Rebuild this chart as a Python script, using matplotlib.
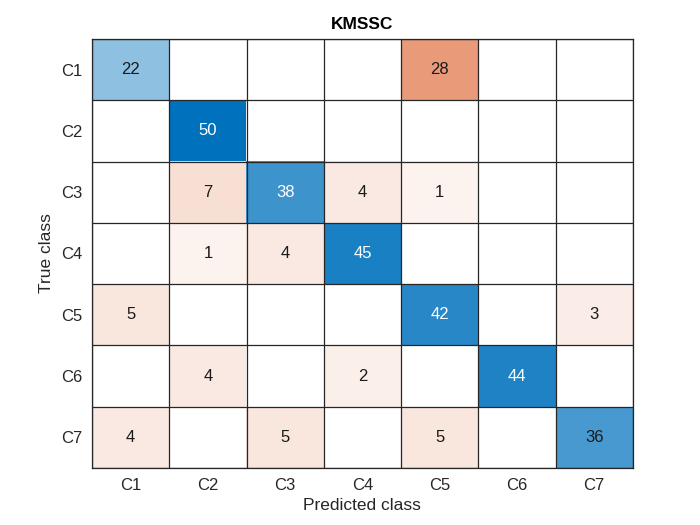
import matplotlib
matplotlib.use("Agg")
import matplotlib.pyplot as plt
import numpy as np

plt.rcParams['font.family'] = ['Liberation Sans', 'DejaVu Sans']

classes = ["C1", "C2", "C3", "C4", "C5", "C6", "C7"]
title = "KMSSC"
xlabel = "Predicted class"
ylabel = "True class"
row_C1 = [22, 0, 0, 0, 28, 0, 0]
row_C2 = [0, 50, 0, 0, 0, 0, 0]
row_C3 = [0, 7, 38, 4, 1, 0, 0]
row_C4 = [0, 1, 4, 45, 0, 0, 0]
row_C5 = [5, 0, 0, 0, 42, 0, 3]
row_C6 = [0, 4, 0, 2, 0, 44, 0]
row_C7 = [4, 0, 5, 0, 5, 0, 36]

cm = np.array([row_C1, row_C2, row_C3, row_C4, row_C5, row_C6, row_C7], dtype=float)
n = len(classes)
vmax = cm.max()

blue = np.array([0.0, 0.4470, 0.7410])
red = np.array([0.8500, 0.3250, 0.0980])

img = np.ones((n, n, 3))
for i in range(n):
    for j in range(n):
        v = cm[i, j]
        if v > 0:
            if i == j:
                t = v / vmax
                base = blue
            else:
                t = 0.05 + 0.95 * v / vmax
                base = red
            img[i, j] = 1 - (1 - base) * t

fig = plt.figure(figsize=(7, 5.25), dpi=100)
ax = fig.add_axes([0.1315, 0.1086, 0.7725, 0.8171])
ax.imshow(img, aspect='auto', extent=(-0.5, n - 0.5, n - 0.5, -0.5), interpolation='nearest')

for k in range(n + 1):
    ax.axhline(k - 0.5, color='#262626', lw=0.9)
    ax.axvline(k - 0.5, color='#262626', lw=0.9)

for i in range(n):
    for j in range(n):
        v = cm[i, j]
        if v > 0:
            t = v / vmax
            c = 'white' if (i == j and t > 0.74) else '#1a1a1a'
            ax.text(j, i, f"{int(v)}", ha='center', va='center', fontsize=12, color=c)

ax.set_xlim(-0.5, n - 0.5)
ax.set_ylim(n - 0.5, -0.5)
ax.set_xticks(range(n))
ax.set_yticks(range(n))
ax.set_xticklabels(classes, fontsize=12, color='#262626')
ax.set_yticklabels(classes, fontsize=12, color='#262626')
ax.tick_params(length=0, pad=7)
ax.set_xlabel(xlabel, fontsize=12.5, color='#262626', labelpad=4)
ax.set_ylabel(ylabel, fontsize=12.5, color='#262626', labelpad=5)
ax.set_title(title, fontsize=12.5, fontweight='bold', pad=7)
for s in ax.spines.values():
    s.set_color('#262626')
    s.set_linewidth(0.9)

fig.savefig("out.png", dpi=100)
